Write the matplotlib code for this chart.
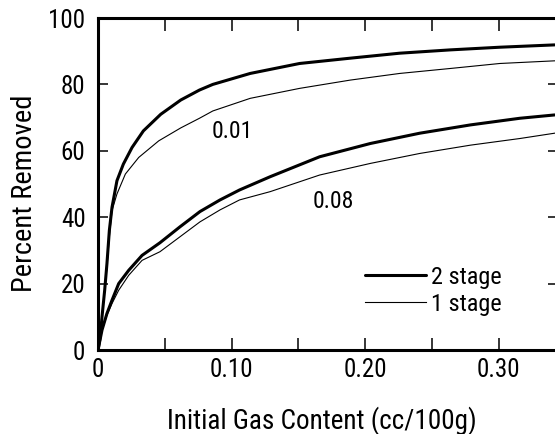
import matplotlib
matplotlib.use("Agg")
import matplotlib.pyplot as plt

# narrow grotesque like the scan; Roboto Condensed is installed
plt.rcParams['font.family'] = ['Roboto Condensed', 'Liberation Sans', 'DejaVu Sans']
plt.rcParams['font.stretch'] = 'condensed'

# curves: x in cc/100g, y in percent removed
# 0.01 family
two_stage_001_x = [0, 0.0017, 0.003, 0.005, 0.0067, 0.0085, 0.0105, 0.0142, 0.019, 0.0255, 0.034,
                   0.047, 0.062, 0.076, 0.086, 0.114, 0.151, 0.189, 0.226, 0.264, 0.301, 0.342]
two_stage_001_y = [0, 4, 10, 18, 26, 36, 43, 51, 56, 61, 66,
                   71, 75.3, 78.3, 80.0, 83.3, 86.3, 87.9, 89.4, 90.4, 91.2, 91.9]
one_stage_001_x = [0, 0.0017, 0.003, 0.005, 0.0067, 0.0085, 0.0105, 0.0142, 0.0205, 0.0305, 0.0455,
                   0.062, 0.076, 0.086, 0.114, 0.151, 0.189, 0.226, 0.264, 0.301, 0.342]
one_stage_001_y = [0, 4, 10, 18, 25, 34, 42, 47, 53, 58, 63,
                   66.9, 69.8, 72.0, 75.8, 78.8, 81.3, 83.3, 84.8, 86.3, 87.1]

# 0.08 family
two_stage_008_x = [0, 0.003, 0.0067, 0.0105, 0.0155, 0.023, 0.033, 0.0464, 0.0614, 0.0764, 0.0914,
                   0.106, 0.129, 0.166, 0.204, 0.241, 0.279, 0.316, 0.342]
two_stage_008_y = [0, 6, 11, 15, 20, 24, 28.5, 32.3, 37.1, 41.7, 45.2,
                   48.2, 52.2, 58.2, 62.2, 65.3, 67.8, 69.8, 70.8]
one_stage_008_x = [0, 0.003, 0.0067, 0.0105, 0.0155, 0.023, 0.033, 0.0464, 0.0614, 0.0764, 0.0914,
                   0.106, 0.129, 0.166, 0.204, 0.241, 0.279, 0.316, 0.342]
one_stage_008_y = [0, 6, 10.5, 14, 18, 22.5, 27, 29.6, 34.1, 38.6, 42.2,
                   45.2, 47.7, 52.7, 56.2, 59.2, 61.7, 63.7, 65.3]

curve_labels = ['0.01', '0.08']
curve_label_pos = [(0.1004, 65.7), (0.176, 44.6)]
legend_labels = ['2 stage', '1 stage']

x_ticks = [0, 0.10, 0.20, 0.30]
x_tick_labels = ['0', '0.10', '0.20', '0.30']
x_minor_ticks = [0.05, 0.15, 0.25]
y_ticks = [0, 20, 40, 60, 80, 100]

W, H = 555, 434
fig = plt.figure(figsize=(W / 100, H / 100), dpi=100)
# axes extend a little past the right edge, as in the cropped scan
ax = fig.add_axes([98 / W, 1 - 350 / H, (558 - 98) / W, (350 - 18) / H])

thick = dict(color='black', lw=2.2, solid_capstyle='round', solid_joinstyle='round')
thin = dict(color='black', lw=0.8, solid_joinstyle='round')

ax.plot(two_stage_001_x, two_stage_001_y, label=legend_labels[0], **thick)
ax.plot(one_stage_001_x, one_stage_001_y, label=legend_labels[1], **thin)
ax.plot(two_stage_008_x, two_stage_008_y, **thick)
ax.plot(one_stage_008_x, one_stage_008_y, **thin)

for txt, (tx, ty) in zip(curve_labels, curve_label_pos):
    ax.text(tx, ty, txt, fontsize=17, ha='center', va='center')

ax.set_xlim(0, (558 - 98) / 1335)
ax.set_ylim(0, 100)

ax.set_xticks(x_ticks)
ax.set_xticklabels(x_tick_labels)
ax.set_xticks(x_minor_ticks, minor=True)
ax.set_yticks(y_ticks)

ax.tick_params(axis='both', which='both', direction='in', top=True, right=True,
               width=1.1, labelsize=18)
ax.tick_params(axis='x', which='both', length=9, pad=6)
ax.tick_params(axis='y', which='both', length=7.5, pad=9)

for s in ax.spines.values():
    s.set_linewidth(2.2)

ax.set_xlabel('Initial Gas Content (cc/100g)', fontsize=19.5)
ax.set_ylabel('Percent Removed', fontsize=20.5)
# xlabel is anchored by its top, ylabel by its right edge
ax.xaxis.set_label_coords((322 - 98) / 460, (350 - 406) / 332)
ax.yaxis.set_label_coords((38 - 98) / 460, (350 - 193) / 332)

ax.legend(loc='upper left', bbox_to_anchor=(365 / W, 1 - 266 / H), bbox_transform=fig.transFigure,
          frameon=False, fontsize=17.5, handlelength=2.5, handletextpad=0.2,
          labelspacing=0.15, borderpad=0, borderaxespad=0)

fig.savefig('out.png', dpi=100)
